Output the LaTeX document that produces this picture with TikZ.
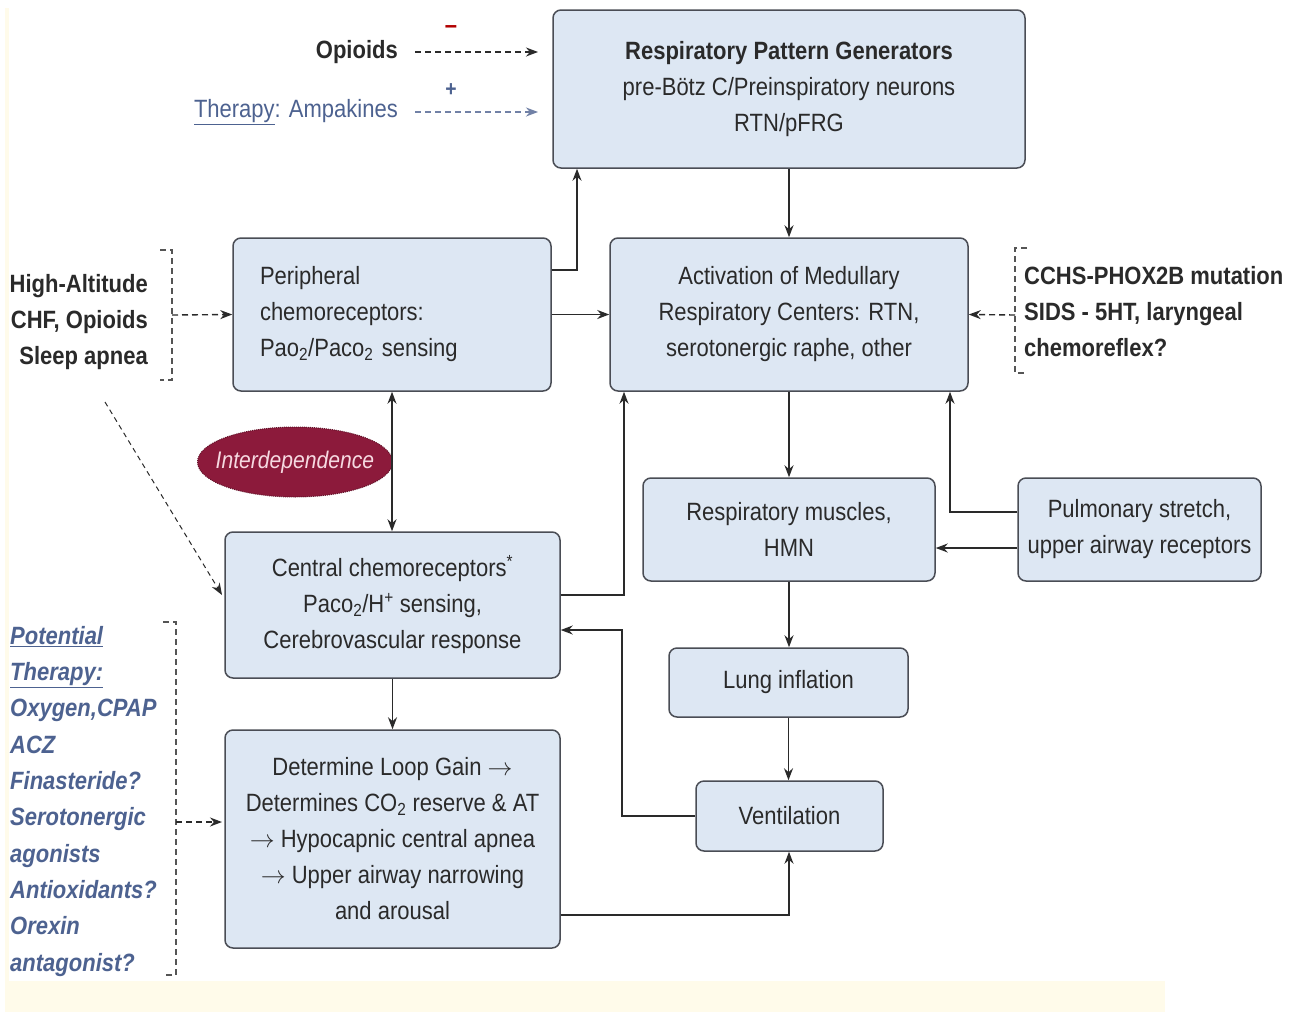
\documentclass[tikz,border=0pt]{standalone}
\usepackage{fontspec}
\setmainfont{Liberation Sans}[FakeStretch=0.88]
\usetikzlibrary{arrows.meta,shapes.geometric,calc}
\definecolor{boxfill}{HTML}{DDE7F3}
\definecolor{boxdraw}{HTML}{4A4D55}
\definecolor{therblue}{HTML}{4D6290}
\definecolor{maroonc}{HTML}{8C1A3B}
\definecolor{pinktext}{HTML}{F6D9E1}
\definecolor{cream}{HTML}{FFFBEA}
\definecolor{ink}{HTML}{2A2A2A}
\newcommand{\fs}{\fontsize{25}{36}\selectfont}
\tikzset{
  fbox/.style={draw=boxdraw, line width=1.5pt, fill=boxfill, rounded corners=8pt,
    inner sep=0pt, align=center, font=\fs, text=ink},
  arr/.style={line width=1.4pt, draw=ink, -{Stealth[length=12pt,width=9pt]}},
  darr/.style={arr, dash pattern=on 6pt off 4pt},
  brk/.style={line width=1.2pt, draw=ink!80, dash pattern=on 6pt off 4pt},
  lbl/.style={font=\fs\bfseries, text=ink, inner sep=0pt},
}
\begin{document}
\begin{tikzpicture}[x=1pt, y=-1pt]
\useasboundingbox (0,0) rectangle (1298,1012);
\fill[cream] (5,8) rectangle (1165,1012);
\fill[white] (9,0) rectangle (1298,981);

% boxes
\node[fbox, minimum width=472, minimum height=158] (rpg) at (789,89)
  {\textbf{Respiratory Pattern Generators}\\pre-Bötz C/Preinspiratory neurons\\RTN/pFRG};
\node[fbox, minimum width=318, minimum height=153, align=left, text width=264] (periph) at (392,314.5)
  {Peripheral\\chemoreceptors:\\Pao\textsubscript{2}/Paco\textsubscript{2} sensing};
\node[fbox, minimum width=358, minimum height=153] (act) at (789,314.5)
  {Activation of Medullary\\Respiratory Centers: RTN,\\serotonergic raphe, other};
\node[fbox, minimum width=335, minimum height=146] (central) at (392.5,605)
  {Central chemoreceptors\textsuperscript{*}\\Paco\textsubscript{2}/H\textsuperscript{+} sensing,\\Cerebrovascular response};
\node[fbox, minimum width=335, minimum height=218] (det) at (392.5,839)
  {Determine Loop Gain $\rightarrow$\\Determines CO\textsubscript{2} reserve \& AT\\$\rightarrow$ Hypocapnic central apnea\\$\rightarrow$ Upper airway narrowing\\and arousal};
\node[fbox, minimum width=292, minimum height=103] (musc) at (789,529.5)
  {Respiratory muscles,\\HMN};
\node[fbox, minimum width=243, minimum height=103] (pulm) at (1139.5,529.5)
  {Pulmonary stretch,\\upper airway receptors};
\node[fbox, minimum width=239, minimum height=69] (lung) at (788.5,682.5) {Lung inflation};
\node[fbox, minimum width=187, minimum height=70] (vent) at (789.5,816) {Ventilation};

% ellipse
\node[ellipse, fill=maroonc, draw=maroonc!70!black, line width=1pt, densely dotted,
  minimum width=195, minimum height=70, inner sep=0pt] (inter) at (295,462) {};
\node[font=\fontsize{24}{30}\selectfont\itshape, text=pinktext, inner sep=0pt] (intertxt) at (inter.center) {Interdependence};

% side labels
\node[lbl, anchor=east] (opi) at (398,52) {Opioids};
\node[font=\fs, text=therblue, anchor=east, inner sep=0pt] (ther) at (398,112) {\underline{Therapy}: Ampakines};
\node[text=red!70!black, font=\fs\bfseries, inner sep=0pt] (minus) at (451,30) {–};
\node[text=therblue, font=\fontsize{22}{22}\selectfont\bfseries, inner sep=0pt] (plus) at (451,90) {+};
\coordinate (o1) at (538,52);
\coordinate (o2) at (538,112);
\draw[darr] ([xshift=17pt]opi.east) -- (o1);
\draw[darr, draw=therblue!80] ([xshift=17pt]ther.east) -- (o2);

\node[lbl, anchor=east, align=right] (hal) at (148,322) {High-Altitude\\CHF, Opioids\\Sleep apnea};
\node[lbl, anchor=west, align=left] (cchs) at (1024,312) {CCHS-PHOX2B mutation\\SIDS - 5HT, laryngeal\\chemoreflex?};
\node[font=\fontsize{25}{36.3}\selectfont\bfseries\itshape, text=therblue, anchor=north west, align=left, inner sep=0pt] (pot) at (10,626)
  {\underline{Potential}\\\underline{Therapy:}\\Oxygen,CPAP\\ACZ\\Finasteride?\\Serotonergic\\agonists\\Antioxidants?\\Orexin\\antagonist?};

% brackets
\draw[brk] (160,250) -- (172,250) -- (172,380) -- (160,380);
\coordinate (bl) at (172,315);
\draw[darr] (bl) -- (periph.west);
\draw[brk] (1027,248) -- (1015,248) -- (1015,373) -- (1027,373);
\coordinate (br) at (1015,315);
\draw[darr] (br) -- (act.east);
\draw[brk] (163,622) -- (176,622) -- (176,975) -- (163,975);
\coordinate (bb) at (176,822);
\coordinate (bb2) at (222,822);
\draw[darr] (bb) -- (bb2);
\coordinate (d1) at (105,402);
\coordinate (d2) at (222,595);
\draw[darr, line width=1pt, dash pattern=on 5pt off 4pt] (d1) -- (d2);

% connectors
\draw[arr] (rpg.south) -- (act.north);
\draw[arr] (periph.east) -- (act.west);
\coordinate (p1) at (577,270);
\draw[arr] (p1 -| periph.east) -- (p1) -- (p1 |- rpg.south);
\draw[arr] (act.south) -- (musc.north);
\draw[arr] (musc.south) -- (musc.south |- lung.north);
\draw[arr] (lung.south) -- (lung.south |- vent.north);
\coordinate (q1) at (0,548);
\draw[arr] (q1 -| pulm.west) -- (q1 -| musc.east);
\coordinate (q2) at (950,512);
\draw[arr] (q2 -| pulm.west) -- (q2) -- (q2 |- act.south);
\draw[arr, {Stealth[length=12pt,width=9pt]}-{Stealth[length=12pt,width=9pt]}] (periph.south) -- (periph.south |- central.north);
\draw[arr] (central.south) -- (det.north);
\coordinate (r1) at (624,595);
\draw[arr] (r1 -| central.east) -- (r1) -- (r1 |- act.south);
\coordinate (r2) at (622,630);
\draw[arr] (vent.west) -| (r2) -- (r2 -| central.east);
\coordinate (r3) at (789,915);
\draw[arr] (r3 -| det.east) -- (r3) -- (r3 |- vent.south);
\end{tikzpicture}
\end{document}
